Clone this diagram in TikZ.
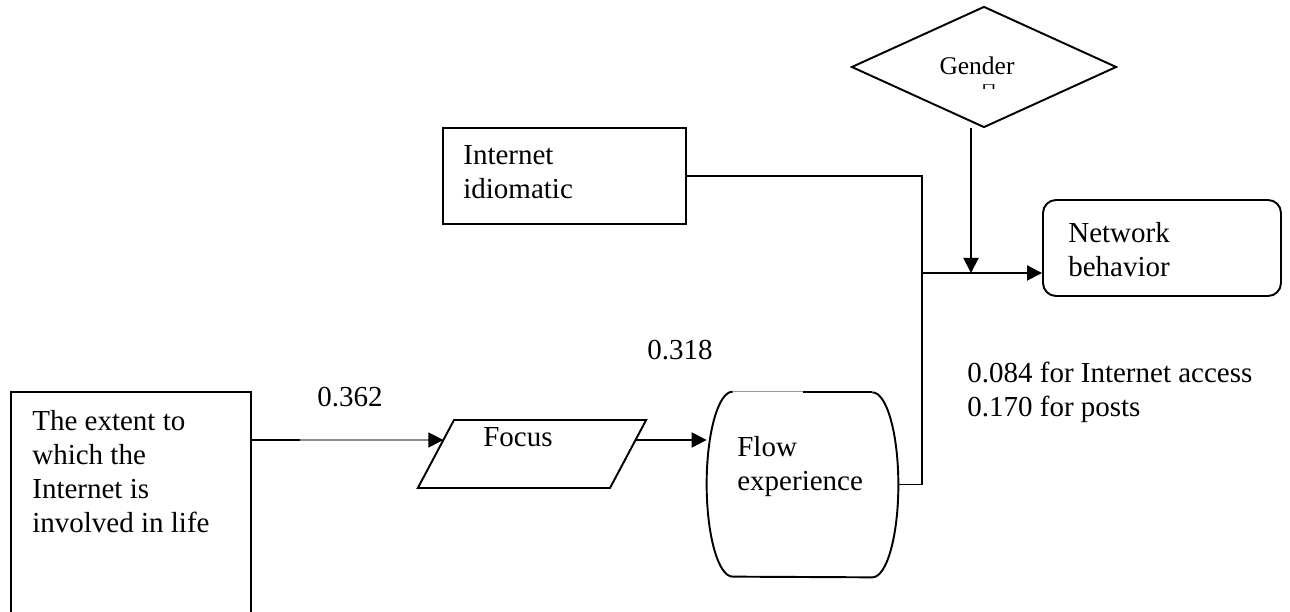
\documentclass[tikz,border=0pt]{standalone}
\usepackage{fontspec}
\setmainfont{Liberation Serif}
\newfontfamily\symfont{DejaVu Sans}
\usetikzlibrary{shapes.geometric,arrows.meta,calc}

\begin{document}
\begin{tikzpicture}[
  font=\fontsize{16.5}{19.4}\selectfont,
  box/.style={draw, line width=1.1pt, inner sep=0pt},
  txt/.style={anchor=north west, align=left, inner sep=0pt},
  wire/.style={line width=1.1pt},
  arr/.style={line width=1.1pt, -{Triangle[length=0.3cm,width=0.3cm]}}]
  \useasboundingbox (0,0) rectangle (25.8,12.24);
  % Life box (runs off the bottom)
  \node[box, minimum width=4.8cm, minimum height=4.76cm] (extent) at (2.62,2.02) {};
  \node[txt] (extenttxt) at (0.64,4.04) {The extent to\\which the\\Internet is\\involved in life};
  % Focus
  \node[box, trapezium, trapezium left angle=62, trapezium right angle=118,
    inner xsep=1.56cm, inner ysep=0.68cm, outer sep=0pt] (focus) at (10.64,3.16) {};
  \node[anchor=base west, inner sep=0pt] (focustxt) at (9.66,3.30) {Focus};
  % Flow experience
  \node[inner sep=0pt, minimum width=3.82cm, minimum height=3.7cm] (flow) at (16.05,2.55) {};
  \draw[wire] ([xshift=0.52cm]flow.north west) arc[start angle=90, end angle=270, x radius=0.52cm, y radius=1.85cm]
    -- ([xshift=-0.52cm]flow.south east) arc[start angle=-90, end angle=90, x radius=0.52cm, y radius=1.85cm];
  \draw[black!40, line width=0.6pt] ([xshift=0.52cm]flow.north west) -- (flow.north);
  \draw[wire] (flow.north) -- ([xshift=-0.52cm]flow.north east);
  \node[txt] (flowtxt) at (14.74,3.52) {Flow\\experience};
  % Internet idiomatic
  \node[box, minimum width=4.86cm, minimum height=1.92cm] (idiomatic) at (11.29,8.72) {};
  \node[txt] (idiomatictxt) at (9.26,9.34) {Internet\\idiomatic};
  % Network behavior
  \node[box, rounded corners=0.26cm, minimum width=4.76cm, minimum height=1.92cm] (network) at (23.24,7.28) {};
  \node[txt] (networktxt) at (21.36,7.80) {Network\\behavior};
  % Gender
  \node[box, diamond, minimum width=5.3cm, minimum height=2.42cm] (gender) at (19.68,10.9) {};
  \node[font=\fontsize{14.5}{17}\selectfont] (gendertxt) at (19.54,10.92) {Gender};
  \node[inner sep=0pt, font=\symfont\fontsize{11}{11}\selectfont] (gendermark) at (19.78,10.5) {\scalebox{1}[0.4]{⊓}};
  % Arrows
  \coordinate (merge) at (18.44,6.78);
  \coordinate (focusin) at ($(focus.bottom left corner)!0.706!(focus.top left corner)$);
  \coordinate (focusout) at ($(focus.bottom right corner)!0.706!(focus.top right corner)$);
  \draw[black!45, line width=0.6pt, -{Triangle[length=0.3cm,width=0.3cm,color=black,fill=black]}] (extent.east |- focusin) -- (focusin);
  \draw[wire] (extent.east |- focusin) -- ++(0.96,0);
  \draw[arr] (focusout) -- (flow.west |- focusout);
  \draw[wire] (idiomatic.east) -| (merge);
  \draw[wire] (flow.east) -| (merge);
  \draw[arr] (merge) -- (network.west |- merge);
  \draw[arr] ([xshift=-0.26cm]gender.south) -- ([xshift=-0.26cm]gender.south |- merge);
  % Coefficients
  \node (w362) at (7.0,4.3) {0.362};
  \node (w318) at (13.6,5.24) {0.318};
  \node[txt] (w084) at (19.34,5.0) {0.084 for Internet access\\0.170 for posts};
\end{tikzpicture}
\end{document}
